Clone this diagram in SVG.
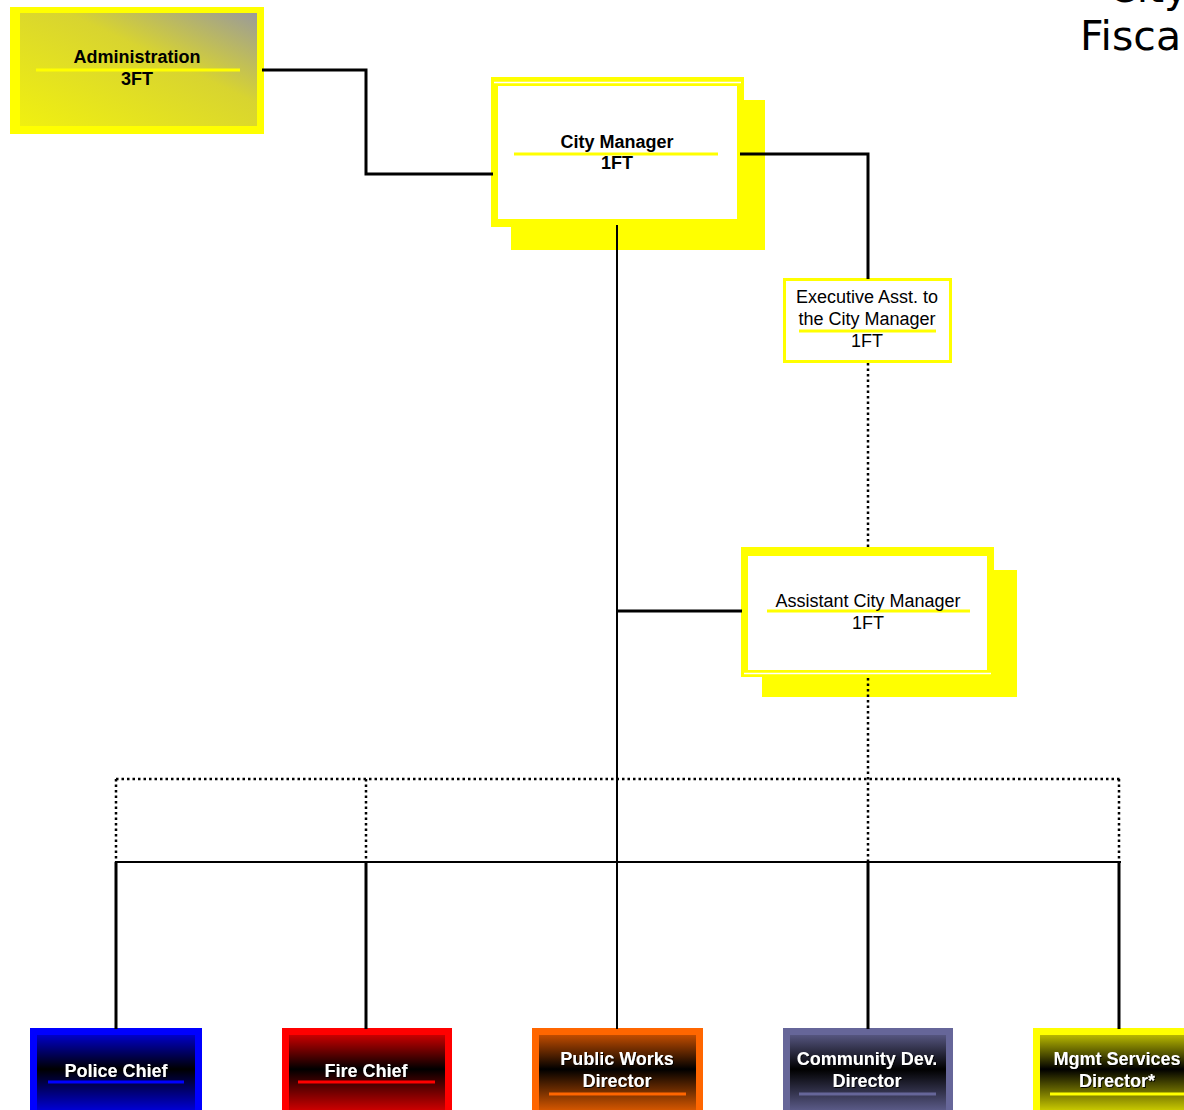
<svg xmlns="http://www.w3.org/2000/svg" width="1184" height="1110" viewBox="0 0 1184 1110">
<defs>
<linearGradient id="gAdmin" x1="0" y1="1" x2="1" y2="0">
<stop offset="0" stop-color="#F0F010"/>
<stop offset="0.6" stop-color="#D8D430"/>
<stop offset="1" stop-color="#9A9A9A"/>
</linearGradient>
<linearGradient id="gBlue" x1="0" y1="0" x2="0" y2="1">
<stop offset="0" stop-color="#0000C8"/>
<stop offset="0.45" stop-color="#000000"/>
<stop offset="1" stop-color="#0000D8"/>
</linearGradient>
<linearGradient id="gRed" x1="0" y1="0" x2="0" y2="1">
<stop offset="0" stop-color="#C80000"/>
<stop offset="0.45" stop-color="#000000"/>
<stop offset="1" stop-color="#D00000"/>
</linearGradient>
<linearGradient id="gOrange" x1="0" y1="0" x2="0" y2="1">
<stop offset="0" stop-color="#C04C00"/>
<stop offset="0.45" stop-color="#000000"/>
<stop offset="1" stop-color="#D85800"/>
</linearGradient>
<linearGradient id="gPurple" x1="0" y1="0" x2="0" y2="1">
<stop offset="0" stop-color="#55557F"/>
<stop offset="0.45" stop-color="#000000"/>
<stop offset="1" stop-color="#5C5C8A"/>
</linearGradient>
<linearGradient id="gYellow" x1="0" y1="0" x2="0" y2="1">
<stop offset="0" stop-color="#B8B800"/>
<stop offset="0.45" stop-color="#000000"/>
<stop offset="1" stop-color="#CCCC00"/>
</linearGradient>
<filter id="shadow" x="-10%" y="-30%" width="120%" height="160%">
<feDropShadow dx="1" dy="1" stdDeviation="0.6" flood-color="#000" flood-opacity="0.9"/>
</filter>
</defs>
<style>
.t { font-family: "Liberation Sans", Arial, sans-serif; font-size: 18px; text-anchor: middle; fill: #000; }
.b { font-weight: bold; }
.w { fill: #FFFFFF; font-weight: bold; filter: url(#shadow); }
.ul { stroke-width: 3; }
.yl { stroke: #FFFF00; }
.conn { fill: none; stroke: #000; stroke-width: 3; }
.thin { fill: none; stroke: #000; stroke-width: 2; }
.dot { fill: none; stroke: #000; stroke-width: 2.5; stroke-dasharray: 2.5 3; }
.title { font-family: "DejaVu Sans", "Liberation Sans", sans-serif; font-size: 41px; fill: #000; }
</style>
<rect width="1184" height="1110" fill="#FFFFFF"/>

<!-- title (cut off at edge, as in the reference) -->
<text class="title" x="1108" y="2">City</text>
<text class="title" x="1080" y="50">Fisca</text>

<g id="administration">
<rect x="10" y="7" width="254" height="127" fill="#FFFF00"/>
<rect x="20" y="13" width="237" height="113" fill="url(#gAdmin)"/>
<line class="ul yl" x1="36" y1="70" x2="240" y2="70"/>
<text class="t b" x="137" y="63">Administration</text>
<text class="t b" x="137" y="85">3FT</text>
</g>

<g id="city-manager">
<rect x="511" y="100" width="254" height="150" fill="#FFFF00"/>
<rect x="491" y="77" width="253" height="150" fill="#FFFF00"/>
<line x1="494" y1="82.5" x2="741" y2="82.5" stroke="#FFFFFF" stroke-width="1.5"/>
<rect x="498" y="86" width="239" height="133" fill="#FFFFFF"/>
<line class="ul yl" x1="514" y1="154" x2="718" y2="154"/>
<text class="t b" x="617" y="148">City Manager</text>
<text class="t b" x="617" y="169">1FT</text>
</g>

<g id="executive-asst">
<rect x="784.5" y="279.5" width="166" height="82" fill="#FFFFFF" stroke="#FFFF00" stroke-width="3"/>
<line class="ul yl" x1="799" y1="331" x2="936" y2="331"/>
<text class="t" x="867" y="303">Executive Asst. to</text>
<text class="t" x="867" y="325">the City Manager</text>
<text class="t" x="867" y="347">1FT</text>
</g>

<g id="assistant-city-manager">
<rect x="762" y="570" width="255" height="127" fill="#FFFF00"/>
<rect x="741" y="547" width="253" height="130" fill="#FFFF00"/>
<rect x="748" y="556" width="239" height="114" fill="#FFFFFF"/>
<line x1="744" y1="673.5" x2="991" y2="673.5" stroke="#FFFFFF" stroke-width="1.5"/>
<line class="ul yl" x1="767" y1="611" x2="970" y2="611"/>
<text class="t" x="868" y="607">Assistant City Manager</text>
<text class="t" x="868" y="629">1FT</text>
</g>

<g id="police-chief">
<rect x="30" y="1028" width="172" height="90" fill="#0000FF"/>
<rect x="37" y="1035" width="158" height="76" fill="url(#gBlue)"/>
<line class="ul" stroke="#0000FF" x1="48" y1="1082" x2="184" y2="1082"/>
<text class="t w" x="116" y="1077">Police Chief</text>
</g>

<g id="fire-chief">
<rect x="282" y="1028" width="170" height="90" fill="#FF0000"/>
<rect x="289" y="1035" width="156" height="76" fill="url(#gRed)"/>
<line class="ul" stroke="#FF0000" x1="298" y1="1082" x2="435" y2="1082"/>
<text class="t w" x="366" y="1077">Fire Chief</text>
</g>

<g id="public-works-director">
<rect x="532" y="1028" width="171" height="90" fill="#FF6600"/>
<rect x="539" y="1035" width="157" height="76" fill="url(#gOrange)"/>
<line class="ul" stroke="#FF6600" x1="549" y1="1094" x2="686" y2="1094"/>
<text class="t w" x="617" y="1065">Public Works</text>
<text class="t w" x="617" y="1087">Director</text>
</g>

<g id="community-dev-director">
<rect x="783" y="1028" width="170" height="90" fill="#666699"/>
<rect x="790" y="1035" width="156" height="76" fill="url(#gPurple)"/>
<line class="ul" stroke="#666699" x1="799" y1="1094" x2="936" y2="1094"/>
<text class="t w" x="867" y="1065">Community Dev.</text>
<text class="t w" x="867" y="1087">Director</text>
</g>

<g id="mgmt-services-director">
<rect x="1033" y="1028" width="170" height="90" fill="#FFFF00"/>
<rect x="1040" y="1035" width="156" height="76" fill="url(#gYellow)"/>
<line class="ul" stroke="#FFFF00" x1="1050" y1="1094" x2="1186" y2="1094"/>
<text class="t w" x="1117" y="1065">Mgmt Services</text>
<text class="t w" x="1117" y="1087">Director*</text>
</g>

<g id="connectors">
<polyline class="conn" points="262,70 366,70 366,174 493,174"/>
<polyline class="conn" points="740,154 868,154 868,279"/>
<line class="thin" x1="617" y1="225" x2="617" y2="1029"/>
<line class="conn" x1="617" y1="611" x2="742" y2="611"/>
<line class="dot" x1="868" y1="363" x2="868" y2="547"/>
<line class="dot" x1="868" y1="678" x2="868" y2="862"/>
<line class="dot" x1="116" y1="779" x2="1120" y2="779"/>
<line class="dot" x1="116" y1="779" x2="116" y2="862"/>
<line class="dot" x1="366" y1="779" x2="366" y2="862"/>
<line class="dot" x1="1119" y1="779" x2="1119" y2="862"/>
<line class="thin" x1="115" y1="862" x2="1121" y2="862"/>
<line class="conn" x1="116" y1="862" x2="116" y2="1029"/>
<line class="conn" x1="366" y1="862" x2="366" y2="1029"/>
<line class="conn" x1="868" y1="862" x2="868" y2="1029"/>
<line class="conn" x1="1119" y1="862" x2="1119" y2="1029"/>
</g>
</svg>
